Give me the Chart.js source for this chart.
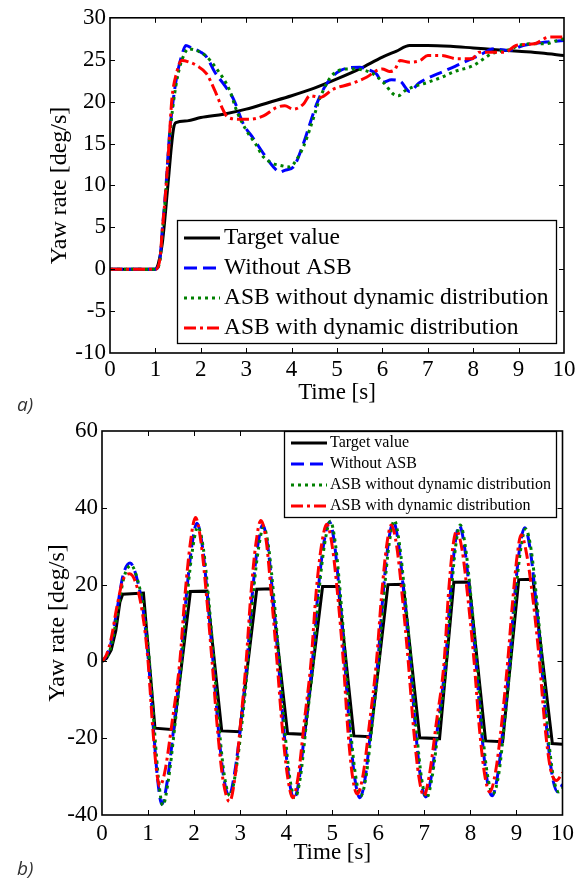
<!DOCTYPE html>
<html>
<head>
<meta charset="utf-8">
<script src="https://cdn.jsdelivr.net/npm/chart.js@4.4.0/dist/chart.umd.min.js"></script>
<style>
  body { margin: 0; background: #fff; }
  #wrap { position: relative; width: 579px; height: 878px; overflow: hidden; }
  #chartA { position: absolute; left: 0; top: 0; }
  #chartB { position: absolute; left: 0; top: 410px; }
</style>
</head>
<body>
<div id="wrap">
  <canvas id="chartA" width="579" height="420"></canvas>
  <canvas id="chartB" width="579" height="468"></canvas>
</div>
<script>
// series names (same for both panels)
const seriesNames = ['Target value', 'Without ASB', 'ASB without dynamic distribution', 'ASB with dynamic distribution'];

// ---- panel a) ----
const timeA_target = [0,1.0,1.05,1.1,1.15,1.2,1.25,1.3,1.35,1.4,1.45,1.7,2.0,2.5,3.0,3.5,4.0,4.5,5.0,5.5,6.0,6.3,6.6,7.0,7.5,8.0,8.5,9.0,9.5,10];
const yawA_target = [0,0,0.4,1.5,3,5.5,8.5,11.5,14.5,16.8,17.5,17.7,18.1,18.5,19.1,19.9,20.7,21.6,22.7,23.9,25.3,26,26.7,26.7,26.6,26.4,26.2,26,25.8,25.5];

const timeA_noAsb = [0,1.0,1.1,1.15,1.23,1.31,1.4,1.5,1.58,1.67,1.8,2.0,2.13,2.31,2.53,2.72,2.94,3.16,3.38,3.6,3.74,3.85,4.04,4.26,4.4,4.55,4.77,5.07,5.5,5.7,5.87,6.0,6.2,6.4,6.6,6.8,7.0,7.3,7.6,7.8,8.13,8.46,8.78,9.1,9.6,10];
const yawA_noAsb = [0,0,1.2,4.6,9.7,16,20.5,23.8,25.5,26.7,26.4,25.9,25.3,23.5,21.9,20.3,17.3,15.6,13.8,12.2,11.6,11.8,12.2,15,17.3,19.7,22.1,23.7,24.1,23.8,23.3,22.3,22.6,22.4,21.2,22.2,22.8,23.5,24.2,24.7,25.5,26.3,26.1,26.7,27.1,27.3];

const timeA_asbStatic = [0,1.0,1.1,1.15,1.23,1.31,1.4,1.5,1.6,1.73,1.9,2.1,2.35,2.64,2.79,3.01,3.2,3.38,3.6,3.74,3.96,4.1,4.26,4.45,4.63,4.92,5.29,5.73,6.02,6.24,6.35,6.5,6.7,7.0,7.3,7.6,8.0,8.2,8.4,8.6,8.8,9.0,9.3,9.6,9.8,10];
const yawA_asbStatic = [0,0,1,4.2,9.2,15.5,20,23.3,25.2,26.3,26.1,25.5,23.9,21.3,18.9,16.5,15,13.4,12.6,12.4,12.2,13,14.6,17.5,20.5,23.3,23.9,23.5,22.3,20.9,20.7,21.3,21.8,22.3,22.9,23.6,24.3,25,25.7,26,26.2,26.7,26.9,26.9,27.2,27.5];

const timeA_asbDyn = [0,1.0,1.1,1.15,1.23,1.3,1.36,1.47,1.58,1.75,1.91,2.13,2.31,2.5,2.6,2.86,3.08,3.38,3.67,3.85,4.04,4.26,4.4,4.63,4.92,5.29,5.65,5.87,6.0,6.15,6.27,6.39,6.6,6.83,7.0,7.3,7.65,7.97,8.13,8.46,8.7,8.94,9.35,9.67,10];
const yawA_asbDyn = [0,0,1.2,4.5,9.5,15,20.1,23.5,24.9,24.7,24.3,23.3,21.3,18.9,18.1,17.9,17.9,18.3,19.3,19.5,19.1,19.7,20.7,20.5,21.5,22.1,22.9,23.7,23.9,23.6,23.8,24.9,24.7,24.9,25.5,25.5,25.1,25.1,25.9,25.9,25.9,26.7,26.9,27.7,27.7];

// ---- panel b) ----
const timeB_target = [0,0.1,0.2,0.3,0.39,0.45,0.9,1.15,1.56,1.92,2.28,2.6,2.99,3.36,3.68,4.03,4.4,4.79,5.13,5.47,5.83,6.21,6.54,6.9,7.33,7.64,7.97,8.33,8.7,9.05,9.36,9.78,10];
const yawB_target = [0,0.8,3,8,15.5,17.5,17.8,-17.4,-17.8,18.2,18.3,-18.1,-18.3,18.8,18.9,-18.8,-19,19.5,19.5,-19.4,-19.6,20,20.1,-19.9,-20.1,20.6,20.7,-20.7,-20.9,21.3,21.4,-21.4,-21.6];

const timeB_noAsb = [0,0.1,0.2,0.32,0.46,0.61,0.78,0.92,1.01,1.12,1.21,1.3,1.42,1.56,1.71,1.83,1.95,2.06,2.18,2.29,2.41,2.53,2.64,2.76,2.88,3.02,3.15,3.26,3.38,3.49,3.6,3.71,3.83,3.95,4.06,4.17,4.29,4.42,4.57,4.69,4.82,4.94,5.05,5.16,5.27,5.38,5.49,5.6,5.72,5.85,5.99,6.1,6.22,6.33,6.44,6.56,6.69,6.81,6.92,7.03,7.15,7.3,7.46,7.56,7.66,7.76,7.87,7.99,8.12,8.24,8.35,8.47,8.6,8.72,8.85,8.96,9.07,9.18,9.3,9.42,9.54,9.66,9.78,9.9,10];
const yawB_noAsb = [0,1.5,5,13,22.5,25.6,20.5,11,0,-18,-31,-37.2,-31,-17,0,17,30,36,30,17,0,-18,-30,-35,-29,-16,0,17,30,35.5,30,17,0,-18,-30.5,-35.8,-30,-16,0,18,31,36.3,30.5,17,0,-18,-30.5,-35.5,-30,-16,0,17,31,36.3,30.5,17,0,-18,-30.5,-35.3,-30,-16,0,17,30,35.4,30,17,0,-18,-30,-35,-29,-16,0,17,29.5,34.8,29,16,0,-18,-30,-34,-32];

const timeB_asbStatic = [0,0.12,0.22,0.34,0.48,0.63,0.8,0.94,1.03,1.14,1.23,1.32,1.44,1.58,1.73,1.85,1.97,2.08,2.2,2.31,2.43,2.55,2.66,2.78,2.9,3.04,3.17,3.28,3.4,3.51,3.62,3.73,3.85,3.97,4.08,4.19,4.31,4.44,4.59,4.71,4.84,4.96,5.07,5.18,5.29,5.4,5.51,5.62,5.74,5.87,6.01,6.12,6.24,6.35,6.46,6.58,6.71,6.83,6.94,7.05,7.17,7.32,7.48,7.58,7.68,7.78,7.89,8.01,8.14,8.26,8.37,8.49,8.62,8.74,8.87,8.98,9.09,9.2,9.32,9.44,9.56,9.68,9.8,9.92,10];
const yawB_asbStatic = [0,1.5,5,13,22,25,20,11,0,-18,-31,-37.5,-31,-17,0,17,29.5,35,29.5,17,0,-18,-30,-35,-29,-16,0,17,29.5,35,29.5,17,0,-18,-30.5,-35.5,-30,-16,0,18,31,36.5,30.5,17,0,-18,-30,-35,-29.5,-16,0,17,31,36.7,30.5,17,0,-18,-30.5,-35.5,-30,-16,0,17,30,35.5,30,17,0,-18,-29.5,-34.5,-29,-16,0,17,29,34.5,29,16,0,-18,-30,-34,-33];

const timeB_asbDyn = [0,0.1,0.2,0.32,0.45,0.6,0.77,0.91,1.0,1.1,1.18,1.25,1.36,1.52,1.69,1.8,1.92,2.03,2.15,2.27,2.39,2.51,2.63,2.77,2.89,3.01,3.13,3.23,3.34,3.45,3.57,3.68,3.8,3.92,4.03,4.14,4.26,4.39,4.54,4.65,4.77,4.88,5.0,5.12,5.24,5.34,5.44,5.54,5.67,5.81,5.96,6.07,6.18,6.28,6.4,6.52,6.65,6.77,6.88,6.99,7.11,7.26,7.43,7.52,7.61,7.7,7.82,7.95,8.08,8.2,8.31,8.42,8.55,8.68,8.81,8.92,9.02,9.1,9.22,9.36,9.5,9.62,9.74,9.87,10];
const yawB_asbDyn = [0,1.8,6,14,21,22.8,19,10,0,-17,-28,-32.5,-29,-16,0,17,31,37.5,31,17,0,-18,-31,-36.5,-30,-16,0,17,30.5,36.7,31,17,0,-18,-30,-35.5,-30,-16,0,18,30.5,35.7,30,17,0,-18,-30,-34.5,-29.5,-16,0,17,30,35.5,30,17,0,-18,-30,-35,-29.5,-16,0,17,29,34,29,16,0,-18,-29.5,-34,-28.5,-16,0,16,28,33,28,16,0,-17,-28,-31,-29];

const SERIF = '"Liberation Serif", "Times New Roman", serif';

function toPoints(ts, vs) {
    return ts.map(function(t, i) { return { x: t, y: vs[i] }; });
}

function makeDatasets(target, noAsb, asbStatic, asbDyn, smoothTarget) {
    return [{
        label: seriesNames[0], data: target, borderColor: '#000000', borderWidth: 3,
        borderDash: [], cubicInterpolationMode: smoothTarget ? 'monotone' : 'default', tension: 0, order: 4
    }, {
        label: seriesNames[1], data: noAsb, borderColor: '#0000ff', borderWidth: 3,
        borderDash: [13, 6], cubicInterpolationMode: 'monotone', order: 3
    }, {
        label: seriesNames[2], data: asbStatic, borderColor: '#008000', borderWidth: 3,
        borderDash: [3, 4], cubicInterpolationMode: 'monotone', order: 2
    }, {
        label: seriesNames[3], data: asbDyn, borderColor: '#ff0000', borderWidth: 3,
        borderDash: [12, 4, 3, 4], cubicInterpolationMode: 'monotone', order: 1
    }];
}

// matlab-like frame with inward ticks on all four sides
const frameTicksPlugin = {
    id: 'frameTicks',
    afterDatasetsDraw(chart) {
        const { ctx, chartArea: { left, right, top, bottom }, scales: { x, y } } = chart;
        ctx.save();
        ctx.strokeStyle = '#000';
        ctx.lineWidth = 1;
        ctx.beginPath();
        x.ticks.forEach(function(t) {
            const px = Math.round(x.getPixelForValue(t.value)) + 0.5;
            if (px < left + 2 || px > right - 2) return;
            ctx.moveTo(px, bottom); ctx.lineTo(px, bottom - 5);
            ctx.moveTo(px, top); ctx.lineTo(px, top + 5);
        });
        y.ticks.forEach(function(t) {
            const py = Math.round(y.getPixelForValue(t.value)) + 0.5;
            if (py < top + 2 || py > bottom - 2) return;
            ctx.moveTo(left, py); ctx.lineTo(left + 5, py);
            ctx.moveTo(right, py); ctx.lineTo(right - 5, py);
        });
        ctx.stroke();
        ctx.lineWidth = 1.6;
        ctx.strokeRect(left, top, right - left, bottom - top);
        ctx.restore();
    }
};

// boxed legend inside the axes + panel tag a) / b)
const boxLegendPlugin = {
    id: 'boxLegend',
    afterDraw(chart, args, opts) {
        const ctx = chart.ctx;
        const b = opts.box;
        ctx.save();
        ctx.fillStyle = '#fff';
        ctx.fillRect(b.left, b.top, b.right - b.left, b.bottom - b.top);
        ctx.strokeStyle = '#000';
        ctx.lineWidth = 1.3;
        ctx.strokeRect(b.left + 0.5, b.top + 0.5, b.right - b.left, b.bottom - b.top);
        ctx.font = opts.font;
        ctx.textBaseline = 'middle';
        ctx.textAlign = 'left';
        chart.data.datasets.forEach(function(ds, i) {
            const yy = b.top + opts.firstRow + i * opts.rowGap;
            ctx.setLineDash(ds.borderDash);
            ctx.strokeStyle = ds.borderColor;
            ctx.lineWidth = ds.borderWidth;
            ctx.beginPath();
            ctx.moveTo(b.left + opts.lineStart, yy);
            ctx.lineTo(b.left + opts.lineEnd, yy);
            ctx.stroke();
            ctx.setLineDash([]);
            ctx.fillStyle = '#000';
            ctx.fillText(ds.label, b.left + opts.textStart, yy);
        });
        ctx.font = 'italic 19px "Open Sans", sans-serif';
        ctx.fillStyle = '#333';
        ctx.fillText(opts.tag, opts.tagX, opts.tagY);
        ctx.restore();
    }
};

function buildOptions(cfg) {
    return {
        responsive: false,
        animation: false,
        devicePixelRatio: 1,
        layout: { padding: { left: 0, top: cfg.padTop, right: cfg.padRight, bottom: 0 } },
        elements: { point: { radius: 0 }, line: { borderCapStyle: 'butt' } },
        scales: {
            x: {
                type: 'linear', min: 0, max: 10,
                grid: { display: false, drawTicks: false },
                border: { display: false },
                ticks: { stepSize: 1, color: '#000', padding: cfg.xTickPad, font: { family: SERIF, size: 23 } },
                title: { display: true, text: 'Time [s]', color: '#000', font: { family: SERIF, size: 23 }, padding: { top: 0, bottom: cfg.xTitlePad } },
                afterFit: function(scale) { scale.height = cfg.xHeight; }
            },
            y: {
                min: cfg.yMin, max: cfg.yMax,
                grid: { display: false, drawTicks: false },
                border: { display: false },
                ticks: { stepSize: cfg.yStep, color: '#000', padding: 4, font: { family: SERIF, size: 23 } },
                title: { display: true, text: 'Yaw rate [deg/s]', color: '#000', font: { family: SERIF, size: 24 }, padding: { top: cfg.yTitlePad, bottom: 0 } },
                afterFit: function(scale) { scale.width = cfg.yWidth; }
            }
        },
        plugins: {
            legend: { display: false },
            tooltip: { enabled: false },
            boxLegend: cfg.legend
        }
    };
}

const chartA = new Chart(document.getElementById('chartA'), {
    type: 'line',
    data: {
        datasets: makeDatasets(
            toPoints(timeA_target, yawA_target),
            toPoints(timeA_noAsb, yawA_noAsb),
            toPoints(timeA_asbStatic, yawA_asbStatic),
            toPoints(timeA_asbDyn, yawA_asbDyn), true)
    },
    options: buildOptions({
        padTop: 17, padRight: 15, yWidth: 110, xHeight: 67,
        yMin: -10, yMax: 30, yStep: 5, xTickPad: 3, xTitlePad: 13, yTitlePad: 45,
        legend: {
            box: { left: 177, top: 220, right: 556, bottom: 343 },
            font: '23.5px ' + SERIF, firstRow: 18, rowGap: 30,
            lineStart: 7, lineEnd: 43, textStart: 47,
            tag: 'a)', tagX: 17, tagY: 406
        }
    }),
    plugins: [frameTicksPlugin, boxLegendPlugin]
});

const chartB = new Chart(document.getElementById('chartB'), {
    type: 'line',
    data: {
        datasets: makeDatasets(
            toPoints(timeB_target, yawB_target),
            toPoints(timeB_noAsb, yawB_noAsb),
            toPoints(timeB_asbStatic, yawB_asbStatic),
            toPoints(timeB_asbDyn, yawB_asbDyn), false)
    },
    options: buildOptions({
        padTop: 21, padRight: 16, yWidth: 102, xHeight: 63,
        yMin: -40, yMax: 60, yStep: 20, xTickPad: 5, xTitlePad: 11, yTitlePad: 43,
        legend: {
            box: { left: 284, top: 21, right: 556, bottom: 107 },
            font: '16px ' + SERIF, firstRow: 12, rowGap: 21,
            lineStart: 7, lineEnd: 43, textStart: 46,
            tag: 'b)', tagX: 17, tagY: 460
        }
    }),
    plugins: [frameTicksPlugin, boxLegendPlugin]
});
</script>
</body>
</html>
